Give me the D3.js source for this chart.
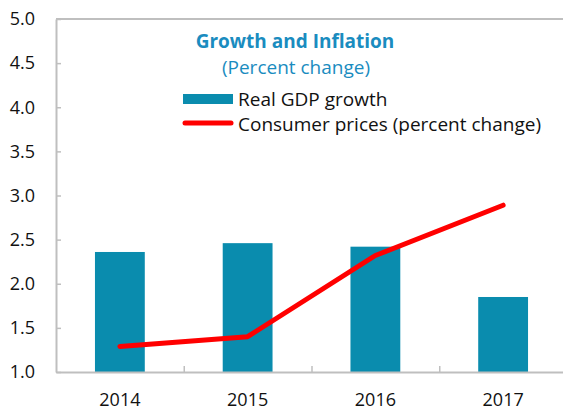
<!DOCTYPE html>
<html>
<head>
<meta charset="utf-8">
<script src="https://cdn.jsdelivr.net/npm/d3@7"></script>
<style>
  body { margin: 0; background: #fff; }
  svg { display: block; font-family: 'Open Sans', sans-serif; }
</style>
</head>
<body>
<script>
// Chart data
const years = ['2014', '2015', '2016', '2017'];
const gdpGrowth = [2.36, 2.46, 2.42, 1.85];
const consumerPrices = [1.29, 1.40, 2.32, 2.89];
const yTicks = [1.0, 1.5, 2.0, 2.5, 3.0, 3.5, 4.0, 4.5, 5.0];

const width = 563, height = 411;
const margin = {top: 19, left: 56, bottom: 39, right: -4};
const axisColor = '#bfbfbf';
const barColor = '#0a8cae';

const svg = d3.select('body').append('svg')
  .attr('width', width)
  .attr('height', height);

// Scales ------------------------
const x = d3.scaleBand()
  .domain(years)
  .range([margin.left, width - margin.right]);

const xEdge = d3.scaleLinear()
  .domain([0, years.length])
  .range([margin.left, width - margin.right]);

const y = d3.scaleLinear()
  .domain([1, 5])
  .range([height - margin.bottom, margin.top]);

const barWidth = x.bandwidth() * 0.39;

// Top frame line
svg.append('line')
  .attr('x1', margin.left).attr('x2', width)
  .attr('y1', y(5)).attr('y2', y(5))
  .attr('stroke', axisColor).attr('stroke-width', 2);

// Bars ----------------------
svg.append('g')
  .selectAll('rect')
  .data(years)
  .join('rect')
  .attr('x', d => x(d) + x.bandwidth() / 2 - barWidth / 2)
  .attr('y', (d, i) => y(gdpGrowth[i]))
  .attr('width', barWidth)
  .attr('height', (d, i) => y(1) - y(gdpGrowth[i]))
  .attr('fill', barColor);

// Y-Axis -------------------------
const yAxis = svg.append('g')
  .attr('transform', `translate(${margin.left},0)`)
  .call(d3.axisLeft(y)
    .tickValues(yTicks)
    .tickFormat(d3.format('.1f'))
    .tickSizeInner(-5)
    .tickSizeOuter(0)
    .tickPadding(21));
yAxis.select('.domain').attr('stroke', axisColor).attr('stroke-width', 2);
yAxis.selectAll('.tick line').attr('stroke', axisColor).attr('stroke-width', 1.5);
yAxis.selectAll('text').attr('font-size', 18).attr('fill', '#111')
  .attr('font-family', "'Open Sans', sans-serif");

// X-Axis -------------------------
const xTicks = svg.append('g')
  .attr('transform', `translate(0,${y(1)})`)
  .call(d3.axisBottom(xEdge)
    .tickValues([1, 2, 3])
    .tickFormat('')
    .tickSizeInner(-6)
    .tickSizeOuter(0));
xTicks.select('.domain').attr('stroke', axisColor).attr('stroke-width', 2);
xTicks.selectAll('.tick line').attr('stroke', axisColor).attr('stroke-width', 1.5);

const xAxis = svg.append('g')
  .attr('transform', `translate(0,${y(1)})`)
  .call(d3.axisBottom(x).tickSize(0).tickPadding(21));
xAxis.select('.domain').remove();
xAxis.selectAll('text').attr('font-size', 18).attr('fill', '#111')
  .attr('font-family', "'Open Sans', sans-serif");

// Consumer price line
const line = d3.line()
  .x((d, i) => x(years[i]) + x.bandwidth() / 2)
  .y(d => y(d));

svg.append('path')
  .datum(consumerPrices)
  .attr('d', line)
  .attr('fill', 'none')
  .attr('stroke', '#ff0000')
  .attr('stroke-width', 5)
  .attr('stroke-linecap', 'round')
  .attr('stroke-linejoin', 'round');

// Title
svg.append('text')
  .attr('x', 295).attr('y', 48)
  .attr('text-anchor', 'middle')
  .attr('font-size', 19).attr('font-weight', 'bold')
  .attr('fill', '#1a8cbf')
  .text('Growth and Inflation');

svg.append('text')
  .attr('x', 296).attr('y', 74)
  .attr('text-anchor', 'middle')
  .attr('font-size', 19)
  .attr('fill', '#1a8cbf')
  .text('(Percent change)');

// Legend
const legend = svg.append('g').attr('transform', 'translate(183,0)');
legend.append('rect')
  .attr('x', 0).attr('y', 94)
  .attr('width', 50).attr('height', 10)
  .attr('fill', barColor);
legend.append('text')
  .attr('x', 55).attr('y', 106)
  .attr('font-size', 19).attr('fill', '#111')
  .text('Real GDP growth');
legend.append('line')
  .attr('x1', 2).attr('x2', 48)
  .attr('y1', 123).attr('y2', 123)
  .attr('stroke', '#ff0000').attr('stroke-width', 5)
  .attr('stroke-linecap', 'round');
legend.append('text')
  .attr('x', 55).attr('y', 131)
  .attr('font-size', 19).attr('fill', '#111')
  .text('Consumer prices (percent change)');
</script>
</body>
</html>
